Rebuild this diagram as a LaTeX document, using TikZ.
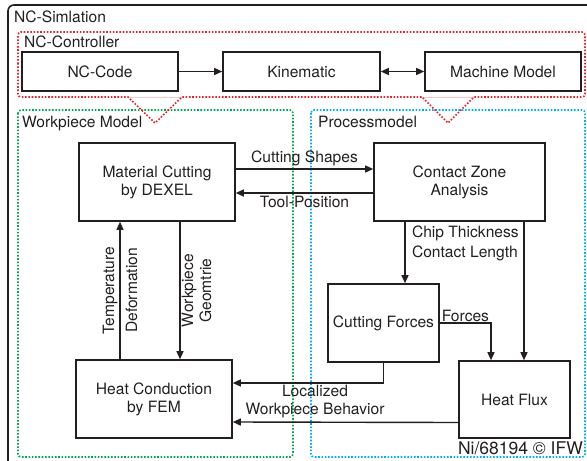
\documentclass[tikz,border=0pt]{standalone}
\usepackage{fontspec}
\setmainfont{TeX Gyre Heros}
\usetikzlibrary{arrows.meta}
\definecolor{ink}{RGB}{35,31,32}
\definecolor{ctrlred}{RGB}{232,32,42}
\definecolor{wpgreen}{RGB}{0,166,81}
\definecolor{procblue}{RGB}{0,174,239}
\begin{document}
\begin{tikzpicture}[x=1pt, y=-1pt, font=\fontsize{15.6}{18}\selectfont, text=ink,
    box/.style = {draw=ink, line width=1.6pt, minimum height=39pt, align=center, inner sep=2pt},
    bigbox/.style = {box, minimum height=78pt},
    arr/.style = {draw=ink, line width=1.4pt, -{Triangle[length=8pt,width=7pt]}},
    frame/.style = {line width=1.6pt, dash pattern=on 1.6pt off 1.7pt, rounded corners=3pt},
    lbl/.style = {anchor=base west, inner sep=0pt}]
	\useasboundingbox (0,0) rectangle (587,461);
	\clip (0,0) rectangle (587,461);
	\draw[ink, line width=1.6pt, rounded corners=6pt] (8,470) -- (8,5) -- (600,5);
	\node[lbl] (tsim) at (14,22.5) {NC-Simlation};
	\draw[frame, wpgreen] (18,110) rectangle (293,457);
	\draw[frame, procblue] (311,110) rectangle (585,457);
	\draw[ctrlred!25, line width=0.6pt] (128,97) -- (182,97) (422,97) -- (474,97);
	\draw[frame, ctrlred] (18,64) -- (18,32) -- (585,32) -- (585,97) [sharp corners] -- (474,97) -- (448,123)
		-- (422,97) -- (182,97) -- (155,123) -- (128,97) [rounded corners=3pt] -- (18,97) -- (18,64);
	\node[lbl] (tctrl) at (24,47) {NC-Controller};
	\node[lbl] (twp) at (22,127.5) {Workpiece Model};
	\node[lbl] (tproc) at (318,127.5) {Processmodel};
	\node[box, minimum width=156pt] (code) at (100,71.5) {NC-Code};
	\node[box, minimum width=157pt] (kin) at (301.5,71.5) {Kinematic};
	\node[box, minimum width=156pt] (mm) at (503,71.5) {Machine Model};
	\node[bigbox, minimum width=156pt] (mc) at (157,182) {Material Cutting\\by DEXEL};
	\node[bigbox, minimum width=171pt] (cz) at (459.5,182) {Contact Zone\\Analysis};
	\node[bigbox, minimum width=156pt] (hc) at (154,399) {Heat Conduction\\by FEM};
	\node[bigbox, minimum width=111pt] (cf) at (383.5,323) {Cutting Forces};
	\node[bigbox, minimum width=111pt, minimum height=77pt] (hf) at (514.5,399.5) {Heat Flux};
	\draw[arr] (code) -- (kin);
	\draw[arr, {Triangle[length=8pt,width=7pt]}-{Triangle[length=8pt,width=7pt]}] (kin) -- (mm);
	\draw[arr] ([yshift=13pt]mc.east) -- ([yshift=13pt]cz.west)
		node[midway, above, inner sep=2pt] (lshape) {Cutting Shapes};
	\draw[arr] ([yshift=-11pt]cz.west) -- ([yshift=-11pt]mc.east)
		node[midway, below, inner sep=2pt] (ltool) {Tool-Position};
	\draw[arr] ([xshift=-37pt]mc.south |- hc.north) -- ([xshift=-37pt]mc.south)
		node[midway, rotate=90, align=center] (ltemp) {Temperature\\[5pt]Deformation};
	\draw[arr] ([xshift=23pt]mc.south) -- ([xshift=23pt]mc.south |- hc.north)
		node[midway, rotate=90, anchor=north, align=center, inner sep=1pt] (lgeo) {Workpiece\\Geomtrie};
	\draw[arr] ([xshift=-54.5pt]cz.south) -- ([xshift=-54.5pt]cz.south |- cf.north)
		node[pos=0.35, right, xshift=3pt, align=left] (lchip) {Chip Thickness\\[2pt]Contact Length};
	\draw[arr] ([xshift=64.5pt]cz.south) -- ([xshift=64.5pt]cz.south |- hf.north);
	\draw[arr] (cf.east) -| ([xshift=-23.5pt]hf.north)
		node[pos=0.25, above, inner sep=1pt] (lforce) {Forces};
	\draw[arr] (cf.south) |- ([yshift=16pt]hc.east);
	\draw[arr] ([yshift=-23pt]hf.west) -- ([yshift=-23pt]hc.east);
	\node[align=center] (lloc) at (315,402) {Localized\\Workpiece Behavior};
	\node[anchor=base east, inner sep=0pt, font=\fontsize{17.5}{20}\selectfont] (copy) at (583,454) {Ni/68194 © IFW};
\end{tikzpicture}
\end{document}
